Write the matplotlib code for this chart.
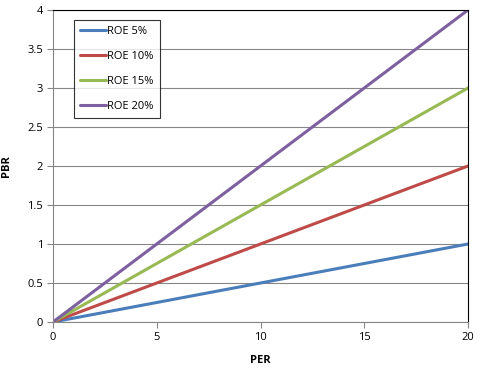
import matplotlib
matplotlib.use("Agg")
import matplotlib.pyplot as plt

# Data
per = list(range(0, 21))
roe5 = [0, 0.05, 0.1, 0.15, 0.2, 0.25, 0.3, 0.35, 0.4, 0.45, 0.5,
        0.55, 0.6, 0.65, 0.7, 0.75, 0.8, 0.85, 0.9, 0.95, 1.0]
roe10 = [0, 0.1, 0.2, 0.3, 0.4, 0.5, 0.6, 0.7, 0.8, 0.9, 1.0,
         1.1, 1.2, 1.3, 1.4, 1.5, 1.6, 1.7, 1.8, 1.9, 2.0]
roe15 = [0, 0.15, 0.3, 0.45, 0.6, 0.75, 0.9, 1.05, 1.2, 1.35, 1.5,
         1.65, 1.8, 1.95, 2.1, 2.25, 2.4, 2.55, 2.7, 2.85, 3.0]
roe20 = [0, 0.2, 0.4, 0.6, 0.8, 1.0, 1.2, 1.4, 1.6, 1.8, 2.0,
         2.2, 2.4, 2.6, 2.8, 3.0, 3.2, 3.4, 3.6, 3.8, 4.0]
series = [("ROE 5%", roe5, "#4A7EBB"),
          ("ROE 10%", roe10, "#BE4B48"),
          ("ROE 15%", roe15, "#98B954"),
          ("ROE 20%", roe20, "#7D60A0")]
xticks = [0, 5, 10, 15, 20]
yticks = [0, 0.5, 1, 1.5, 2, 2.5, 3, 3.5, 4]

plt.rcParams['font.family'] = ['Open Sans', 'DejaVu Sans']

fig = plt.figure(figsize=(4.97, 3.70), dpi=100)
ax = fig.add_axes([53 / 497, 1 - 322 / 370, 415 / 497, 312 / 370])

for name, vals, col in series:
    ax.plot(per, vals, color=col, lw=2.2, label=name, solid_capstyle='round')

ax.set_xlim(0, 20)
ax.set_ylim(0, 4)
ax.set_xticks(xticks)
ax.set_yticks(yticks)
ax.set_xticklabels([str(t) for t in xticks])
ax.set_yticklabels([f"{t:g}" for t in yticks])
ax.yaxis.grid(True, color="#868686", lw=0.8)
ax.set_axisbelow(True)
ax.tick_params(axis='both', direction='out', length=4, width=0.8,
               color="#868686", labelsize=8, pad=3)

for s in ['left', 'bottom']:
    ax.spines[s].set_color("#868686")
    ax.spines[s].set_linewidth(0.8)
for s in ['top', 'right']:
    ax.spines[s].set_color("black")
    ax.spines[s].set_linewidth(0.8)

ax.set_xlabel("PER", fontsize=8, fontweight='bold')
ax.set_ylabel("PBR", fontsize=8, fontweight='bold')
ax.xaxis.set_label_coords(0.5, (322 - 355) / 312)
ax.yaxis.set_label_coords((12 - 53) / 415, 0.5)

leg = ax.legend(loc='upper left',
                bbox_to_anchor=((74 - 53) / 415, 1 - (20 - 10) / 312),
                fontsize=8, frameon=True, fancybox=False, handlelength=2.3,
                handletextpad=0.15, labelspacing=1.25, borderpad=0.55,
                borderaxespad=0)
leg.get_frame().set_edgecolor("black")
leg.get_frame().set_linewidth(0.8)

fig.savefig("out.png", dpi=100)
